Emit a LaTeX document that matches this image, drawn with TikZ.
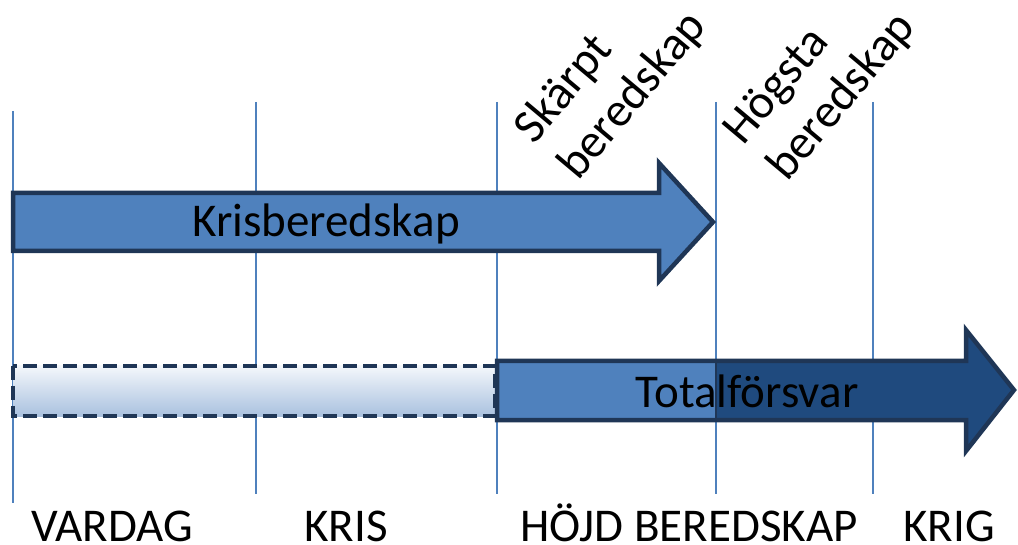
\documentclass[tikz,border=0pt]{standalone}
\usepackage{fontspec}
\setmainfont{Carlito}
\usetikzlibrary{positioning}
\definecolor{paleblue}{HTML}{4F81BD}
\definecolor{deepblue}{HTML}{1F4A7E}
\definecolor{edgeblue}{HTML}{1F3656}
\definecolor{fadetop}{HTML}{F4F7FB}
\definecolor{fadebot}{HTML}{A9C1DF}

\begin{document}
\begin{tikzpicture}[x=1pt, y=-1pt,
  phase/.style={inner sep=0pt, anchor=base, font=\fontsize{47}{56}\selectfont},
  level/.style={inner sep=0pt, anchor=base west, rotate=50, align=left, font=\fontsize{48}{57}\selectfont},
  divider/.style={paleblue, line width=2pt},
  arrowedge/.style={draw=edgeblue, line width=4.5pt, line join=miter}]
  \useasboundingbox (0,0) rectangle (1018,545);

  % Dividers
  \draw [divider] (13,111) -- (13,503);
  \foreach \x in {256, 497, 716, 873}
    \draw [divider] (\x,102) -- (\x,494);

  % Arrows
  \draw [arrowedge, fill=paleblue] (13,193) -- (659,193) -- (659,163) -- (713,222)
    -- (659,281) -- (659,251) -- (13,251) -- cycle;
  \shade [top color=fadetop, bottom color=fadebot] (13,366) rectangle (495,416);
  \draw [draw=edgeblue, line width=4.5pt, dash pattern=on 14pt off 6pt] (13,366) rectangle (495,416);
  \fill [deepblue] (497,361) -- (966,361) -- (966,330) -- (1014,390)
    -- (966,451) -- (966,420) -- (497,420) -- cycle;
  \fill [paleblue] (497,361) rectangle (716,420);
  \draw [edgeblue, line width=2pt] (716,361) -- (716,420);
  \draw [arrowedge] (497,361) -- (966,361) -- (966,330) -- (1014,390)
    -- (966,451) -- (966,420) -- (497,420) -- cycle;

  % Nodes
  \node [phase] (kris) at (326,237) {Krisberedskap};
  \node [phase] (total) at (747,407) {Totalförsvar};
  \node [level] (skarpt) at (578,182) {Skärpt\\beredskap};
  \node [level] (hogsta) at (787,183) {Högsta\\beredskap};
  \node [phase] (vardag) at (112,541) {VARDAG};
  \node [phase] (krisfas) at (346,541) {KRIS};
  \node [phase] (hojd) at (689,541) {HÖJD BEREDSKAP};
  \node [phase] (krig) at (949,541) {KRIG};
\end{tikzpicture}
\end{document}
